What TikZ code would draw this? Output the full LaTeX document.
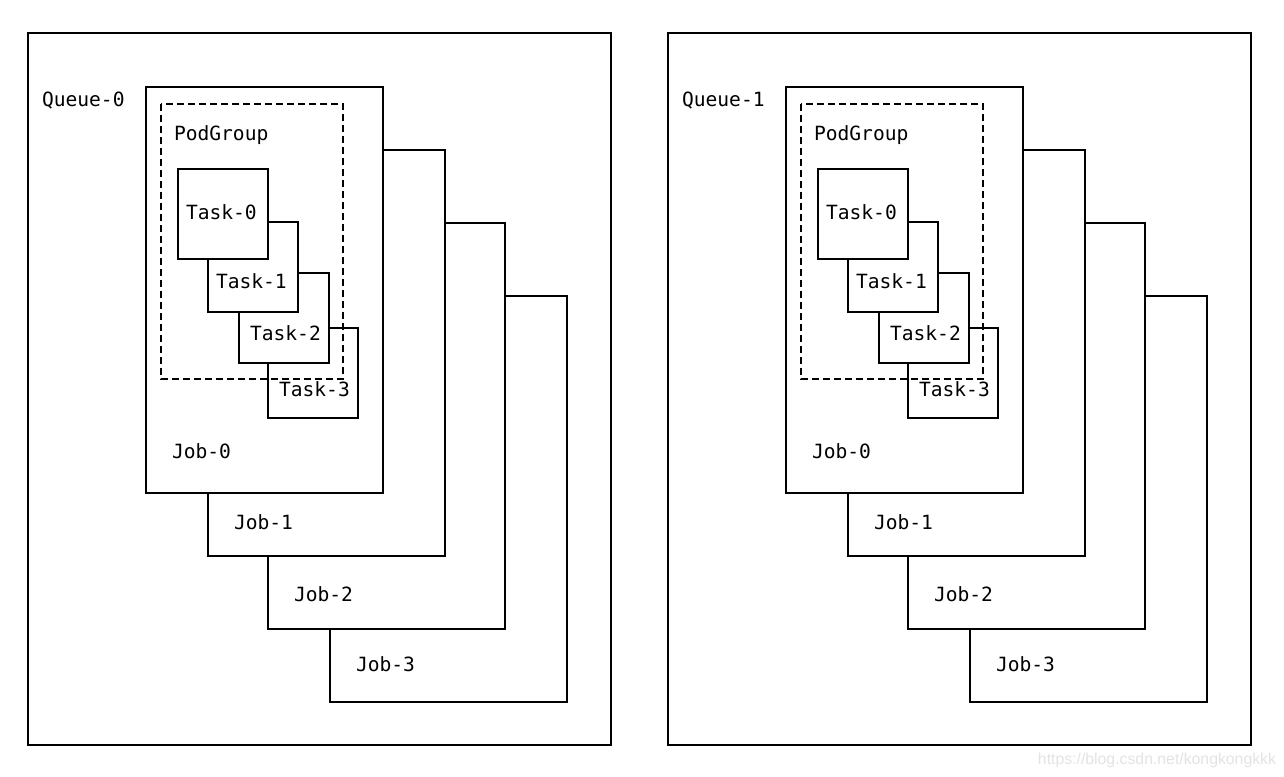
\documentclass[tikz,border=0pt]{standalone}
\usepackage{fontspec}
\setmonofont{DejaVu Sans Mono}
\newfontfamily\markfont{Liberation Sans}
\usetikzlibrary{positioning}

\tikzset{
  box/.style={draw, fill=white},
  group/.style={draw, dash pattern=on 3.5pt off 2pt},
  lbl/.style={anchor=base west, inner sep=0pt, font=\ttfamily\fontsize{9.8}{12}\selectfont},
}

\begin{document}
\begin{tikzpicture}[x=0.5pt, y=-0.5pt, line width=1pt]
  \useasboundingbox (0,0) rectangle (1284,776);
  \foreach \q in {0,1} {
    \begin{scope}[xshift=\q*320pt]
      \draw[box] (28,33) rectangle (611,745);
      \node[lbl] (queue\q) at (41,106) {Queue-\q};

      % jobs, back to front
      \foreach \j/\x/\y/\b in {3/330/296/671, 2/268/223/601, 1/208/150/529, 0/146/87/458} {
        \draw[box] (\x,\y) rectangle ++(237,406);
        \node[lbl] (job\q\j) at (\x+25,\b) {Job-\j};
      }

      % tasks, back to front
      \foreach \t/\x/\y in {3/268/328, 2/239/273, 1/208/222, 0/178/169} {
        \draw[box] (\x,\y) rectangle ++(90,90);
      }
      \node[lbl] (task\q0) at (185,219) {Task-0};
      \node[lbl] (task\q1) at (215,288) {Task-1};
      \node[lbl] (task\q2) at (249,340) {Task-2};
      \node[lbl] (task\q3) at (278,396) {Task-3};

      \draw[group] (161,104) rectangle (343,379);
      \node[lbl] (podgroup\q) at (173,140) {PodGroup};
    \end{scope}
  }
  \node[anchor=base east, inner sep=0pt, text=gray!22, font=\markfont\fontsize{7.9}{9}\selectfont]
    (mark) at (1277,764) {https://blog.csdn.net/kongkongkkk};
\end{tikzpicture}
\end{document}
